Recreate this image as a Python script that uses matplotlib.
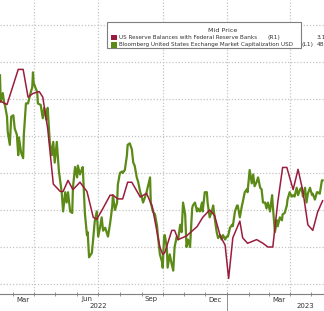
import pandas as pd
import matplotlib
matplotlib.use("Agg")
import matplotlib.pyplot as plt
import matplotlib.transforms as mtransforms
from matplotlib.patches import Rectangle

start = pd.Timestamp("2022-02-11")

# US Reserve Balances with Federal Reserve Banks (R1), trillions USD
reserve_day = [0, 10, 26, 33, 40, 47, 56, 61, 68, 76, 86, 90, 97, 104, 114, 124, 133, 138,
               147, 157, 161, 168, 175, 182, 188, 200, 209, 217, 228, 232, 235, 245, 249,
               254, 266, 281, 289, 299, 306, 314, 321, 326, 332, 342, 346, 353, 366, 375,
               382, 389, 396, 403, 409, 418, 425, 432, 439, 446, 453, 460]
reserve_val = [3.64, 3.62, 3.81, 3.81, 3.66, 3.68, 3.69, 3.66, 3.49, 3.19, 3.15, 3.15, 3.21,
               3.16, 3.20, 3.15, 3.01, 3.00, 3.06, 3.13, 3.13, 3.11, 3.11, 3.20, 3.20, 3.12,
               3.14, 3.07, 2.85, 2.81, 2.82, 2.94, 2.94, 2.89, 2.91, 2.96, 3.01, 3.05, 3.02,
               2.91, 2.86, 2.68, 2.90, 2.99, 2.90, 2.87, 2.89, 2.87, 2.85, 2.85, 3.09, 3.28,
               3.28, 3.16, 3.27, 3.15, 2.97, 2.94, 3.04, 3.10]

# Bloomberg United States Exchange Market Capitalization USD (L1), trillions
mktcap_day = [0, 1, 4, 6, 7, 10, 11, 14, 16, 19, 21, 24, 26, 27, 30, 33, 34, 37, 40, 43, 46,
              47, 48, 51, 53, 54, 58, 61, 63, 66, 68, 71, 74, 76, 78, 81, 84, 88, 90, 93, 95,
              97, 100, 103, 104, 107, 110, 111, 114, 117, 118, 121, 124, 125, 127, 131, 133,
              135, 138, 140, 143, 145, 147, 150, 152, 154, 157, 160, 161, 164, 167, 168, 171,
              174, 175, 178, 181, 182, 185, 188, 190, 192, 195, 197, 200, 202, 204, 207, 209,
              211, 214, 215, 218, 221, 224, 225, 228, 231, 232, 234, 235, 238, 239, 242, 245,
              247, 249, 252, 254, 257, 259, 261, 264, 266, 268, 271, 274, 275, 278, 281, 282,
              285, 288, 289, 292, 295, 296, 299, 302, 304, 306, 309, 311, 314, 316, 318, 321,
              323, 325, 328, 331, 332, 335, 338, 339, 342, 345, 346, 349, 352, 353, 356, 359,
              361, 363, 366, 368, 371, 373, 375, 378, 380, 382, 385, 388, 389, 392, 395, 396,
              399, 402, 403, 406, 409, 410, 413, 416, 418, 420, 423, 425, 428, 430, 432, 435,
              437, 439, 442, 445, 446, 449, 452, 453, 456, 459, 460]
mktcap_val = [55.1, 53.3, 53.9, 53.2, 53.1, 52.3, 51.3, 50.4, 52.3, 52.4, 51.5, 51.1, 49.7,
              50.9, 49.9, 49.5, 51.1, 53.2, 53.2, 53.8, 54.3, 55.3, 54.6, 54.2, 54.0, 53.2,
              53.1, 52.2, 52.9, 52.1, 52.9, 50.6, 49.7, 50.6, 49.2, 50.6, 48.6, 47.2, 45.9,
              47.2, 46.5, 47.2, 45.9, 45.8, 47.5, 48.9, 48.2, 49.0, 48.4, 48.8, 48.9, 45.8,
              44.3, 44.5, 42.8, 43.1, 44.1, 45.2, 45.9, 44.2, 44.9, 45.5, 44.6, 44.8, 44.5,
              44.2, 45.1, 46.2, 47.0, 46.0, 46.5, 47.7, 48.5, 48.6, 48.5, 48.7, 49.7, 50.4,
              50.5, 50.1, 49.2, 49.0, 48.2, 47.9, 47.2, 46.9, 46.5, 46.9, 47.2, 47.6, 48.2,
              46.5, 45.9, 45.7, 44.9, 44.3, 43.0, 42.5, 42.1, 44.2, 44.3, 43.4, 42.1, 43.0,
              42.3, 41.9, 43.5, 44.2, 44.0, 45.0, 44.5, 46.5, 45.7, 43.5, 44.0, 43.5, 46.1,
              46.3, 46.5, 45.9, 46.1, 45.9, 46.5, 45.9, 47.2, 47.2, 46.5, 45.5, 45.9, 46.3,
              45.5, 44.5, 44.1, 44.3, 44.0, 44.3, 44.0, 44.2, 44.2, 44.8, 45.0, 44.9, 45.9,
              46.3, 46.3, 45.5, 46.3, 46.5, 47.2, 47.4, 47.2, 48.7, 47.8, 48.4, 47.6, 47.9,
              48.2, 47.5, 47.4, 46.5, 46.5, 46.1, 46.5, 45.9, 47.0, 46.3, 44.5, 45.3, 44.9,
              45.5, 45.3, 45.7, 45.8, 46.3, 46.7, 47.2, 46.9, 47.0, 46.9, 47.5, 47.0, 47.4,
              47.5, 46.9, 47.5, 46.5, 47.1, 47.5, 47.0, 47.1, 46.7, 47.2, 47.2, 47.1, 48.0,
              48.0]

quarter_lines = ["2022-04-01", "2022-07-01", "2022-10-01", "2023-01-01", "2023-04-01"]
month_labels = ["Mar", "Jun", "Sep", "Dec", "Mar"]
month_label_dates = ["2022-03-16", "2022-06-15", "2022-09-15", "2022-12-15", "2023-03-16"]
year_labels = ["2022", "2023"]
year_label_dates = ["2022-07-01", "2023-04-22"]
left_grid = [41, 43.5, 46, 48.5, 51, 53.5, 56, 58.5]

legend_title = "Mid Price"
legend_names = ["US Reserve Balances with Federal Reserve Banks",
                "Bloomberg United States Exchange Market Capitalization USD"]
legend_tags = ["(R1)", "(L1)"]
legend_values = ["3.1046", "48.03"]

RED = "#9a1d3f"
GREEN = "#5b8a16"
GRID = "#c4c4c4"
TXT = "#333333"

W, H = 324, 311
fig = plt.figure(figsize=(W / 100, H / 100), dpi=100)
fig.patch.set_facecolor("white")
ax = fig.add_axes([0, 17 / H, 1, 294 / H])
ax2 = ax.twinx()

g_dates = start + pd.to_timedelta(mktcap_day, unit="D")
r_dates = start + pd.to_timedelta(reserve_day, unit="D")

ax.plot(g_dates, mktcap_val, color=GREEN, lw=1.6, zorder=3)
ax2.plot(r_dates, reserve_val, color=RED, lw=1.1, zorder=3)

ax.set_xlim(start, start + pd.Timedelta(days=462))
ax.set_ylim(40.32, 60.19)
ax2.set_ylim(2.596, 4.185)

# grid
ax.set_yticks(left_grid)
ax.tick_params(axis="y", length=0, labelleft=False)
ax.grid(axis="y", color=GRID, ls=(0, (1, 1.5)), lw=0.9)
for q in quarter_lines:
    ax.axvline(pd.Timestamp(q), color=GRID, ls=(0, (1, 1.5)), lw=0.9, zorder=1)
ax2.set_yticks([])
ax2.tick_params(length=0, labelright=False)

for s in ["top", "left", "right"]:
    ax.spines[s].set_visible(False)
    ax2.spines[s].set_visible(False)
ax.spines["bottom"].set_color("#7f7f7f")
ax.spines["bottom"].set_linewidth(0.8)
ax2.spines["bottom"].set_visible(False)

# x ticks: month boundaries as marks, labels mid-month
month_starts = pd.date_range("2022-03-01", "2023-05-01", freq="MS")
ax.set_xticks(month_starts)
ax.tick_params(axis="x", which="major", direction="inout", length=3, width=0.6,
               color="#7f7f7f", labelbottom=False)
ax.set_xticks(pd.to_datetime(month_label_dates), minor=True)
ax.set_xticklabels(month_labels, minor=True)
ax.tick_params(axis="x", which="minor", length=0, pad=1.8, labelsize=5, labelcolor=TXT)

trans = mtransforms.blended_transform_factory(ax.transData, ax.transAxes)
for lab, d in zip(year_labels, year_label_dates):
    ax.text(pd.Timestamp(d), -0.042, lab, transform=trans, ha="center", va="center",
            fontsize=5, color=TXT)
ax.plot([pd.Timestamp("2023-01-01")] * 2, [0, -0.07], transform=trans, color="#7f7f7f",
        lw=0.6, clip_on=False)

# legend box (runs past the right edge as in the source)
fig.patches.append(Rectangle((107 / W, 1 - 48 / H), 0.6, 26 / H, transform=fig.transFigure,
                             fc="white", ec="#7f7f7f", lw=0.8, zorder=5))
fig.text(223 / W, 1 - 30 / H, legend_title, ha="center", va="center", fontsize=4.6,
         color=TXT, zorder=6)

renderer = fig.canvas.get_renderer()
for i, (name, tag, val, col) in enumerate(zip(legend_names, legend_tags, legend_values,
                                               [RED, GREEN])):
    yy = 1 - (37.5 + 7.3 * i) / H
    fig.patches.append(Rectangle((111 / W, yy - 2.8 / H), 5.5 / W, 5.5 / H,
                                 transform=fig.transFigure, fc=col, ec="none", zorder=6))
    t = fig.text(119 / W, yy, name, ha="left", va="center", fontsize=4.3, color=TXT, zorder=6)
    # squeeze the name to the width it takes in the source
    target = [141, 178][i]
    w = t.get_window_extent(renderer).width
    t.set_fontsize(4.3 * target / w)
    fig.text([267, 302][i] / W, yy, tag, ha="left", va="center", fontsize=4.3, color=TXT,
             zorder=6)
    fig.text(317 / W, yy, val, ha="left", va="center", fontsize=4.3, color=TXT, zorder=6)

fig.savefig("out.png", dpi=100, facecolor="white")
